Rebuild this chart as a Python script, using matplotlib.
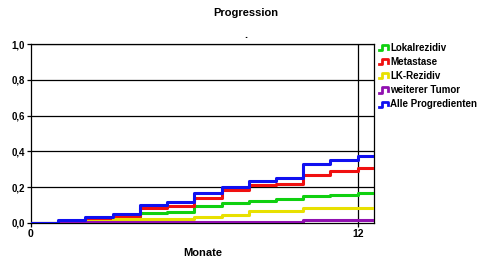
import matplotlib
matplotlib.use("Agg")
import matplotlib.pyplot as plt
from matplotlib.legend_handler import HandlerBase
from matplotlib.lines import Line2D

months = [0, 1, 2, 3, 4, 5, 6, 7, 8, 9, 10, 11, 12, 12.6]
lokal = [0, 0.005, 0.012, 0.02, 0.054, 0.063, 0.095, 0.11, 0.123, 0.132, 0.149, 0.158, 0.169, 0.169]
meta = [0, 0.005, 0.018, 0.04, 0.082, 0.095, 0.138, 0.184, 0.212, 0.22, 0.27, 0.29, 0.307, 0.307]
lk = [0, 0.004, 0.01, 0.02, 0.02, 0.02, 0.035, 0.046, 0.067, 0.067, 0.085, 0.085, 0.085, 0.085]
weiter = [0, 0.006, 0.006, 0.006, 0.006, 0.006, 0.006, 0.006, 0.006, 0.006, 0.017, 0.017, 0.017, 0.017]
alle = [0, 0.017, 0.034, 0.05, 0.1, 0.12, 0.17, 0.2, 0.236, 0.25, 0.33, 0.35, 0.374, 0.374]

labels = ["Lokalrezidiv", "Metastase", "LK-Rezidiv", "weiterer Tumor", "Alle Progredienten"]
colors = ["#10d010", "#f01010", "#e8e000", "#9010b0", "#1010f0"]
series = [lokal, meta, lk, weiter, alle]
yticks = [0, 0.2, 0.4, 0.6, 0.8, 1.0]
ytick_labels = ["0,0", "0,2", "0,4", "0,6", "0,8", "1,0"]

plt.rcParams['font.family'] = ['Liberation Sans', 'DejaVu Sans']
plt.rcParams['font.weight'] = 'bold'

fig = plt.figure(figsize=(4.78, 2.64), dpi=100)
ax = fig.add_axes([31/478, 1-223/264, (374-31)/478, (223-44)/264])

for vals, c, lab in zip(series, colors, labels):
    ax.step(months, vals, where='post', color=c, lw=2.2, label=lab, zorder=3)

ax.set_xlim(0, 12.6)
ax.set_ylim(0, 1.0)
ax.set_yticks(yticks)
ax.set_yticklabels(ytick_labels, fontsize=7, fontweight='bold')
ax.set_xticks([0, 12])
ax.set_xticklabels(["0", "12"], fontsize=7.5, fontweight='bold')
for y in yticks[1:]:
    ax.axhline(y, color='black', lw=0.9, zorder=1)
ax.axvline(12, color='black', lw=0.9, zorder=1)
for s in ax.spines.values():
    s.set_linewidth(0.9)
ax.tick_params(axis='both', length=3, width=0.9, pad=1.5)
ax.set_xlabel("Monate", fontsize=8, fontweight='bold', labelpad=6)
fig.text(246/478, 1-13/264, "Progression", ha='center', va='center', fontsize=8, fontweight='bold')
fig.text(246/478, 1-35/264, ".", ha='center', va='center', fontsize=8, fontweight='bold')


class StepHandler(HandlerBase):
    def create_artists(self, legend, orig_handle, xdescent, ydescent, width, height, fontsize, trans):
        x0 = -xdescent
        y0 = -ydescent
        xs = [x0, x0 + width*0.35, x0 + width*0.35, x0 + width*0.9, x0 + width*0.9]
        ys = [y0 + height*0.1, y0 + height*0.1, y0 + height*0.85, y0 + height*0.85, y0 + height*0.35]
        ln = Line2D(xs, ys, color=orig_handle.get_color(), lw=2.0, transform=trans)
        return [ln]

handles = ax.get_lines()[:5]
leg = fig.legend(handles, labels, loc='upper left', bbox_to_anchor=(379/478, 1-43/264),
                 frameon=False, handlelength=1.0, handletextpad=0.15,
                 labelspacing=0.42, borderaxespad=0, borderpad=0,
                 handler_map={Line2D: StepHandler()}, prop={'weight': 'bold', 'size': 7})

fig.savefig("out.png", dpi=100)
